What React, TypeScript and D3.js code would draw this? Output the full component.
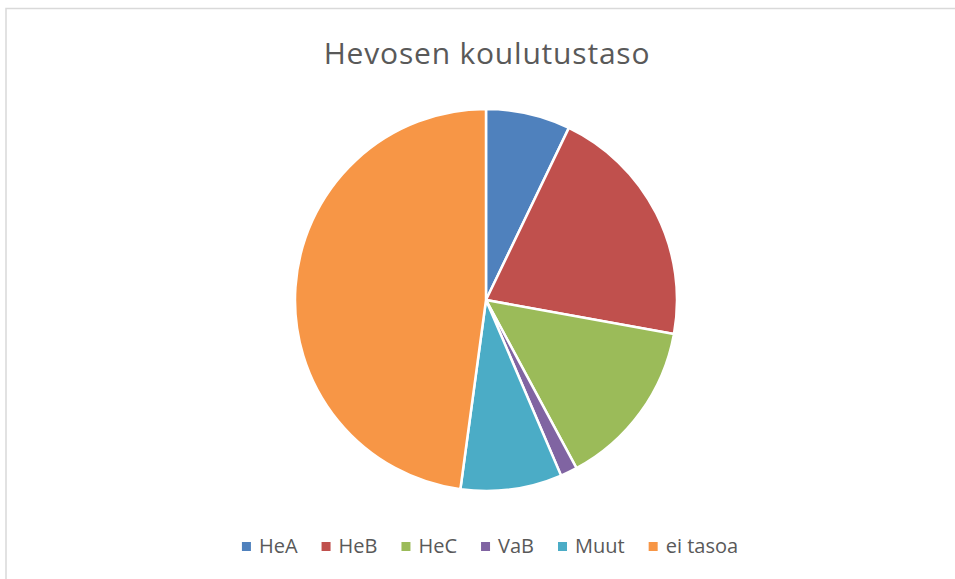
import * as d3 from "d3";
import { useEffect, useRef } from "react";

const categories = ["HeA", "HeB", "HeC", "VaB", "Muut", "ei tasoa"];
const values = [10, 29, 20, 2, 12, 67];
const colors = ["#4F81BD", "#C0504D", "#9BBB59", "#8064A2", "#4BACC6", "#F79646"];
const title = "Hevosen koulutustaso";

const W = 955;
const H = 579;

export default function App() {
  const ref = useRef<SVGSVGElement>(null);

  useEffect(() => {
    const svg = d3.select(ref.current);
    svg.selectAll("*").remove();

    svg.append("rect")
      .attr("width", W).attr("height", H)
      .attr("fill", "#fff");
    // chart border (only top and left edges fall inside the view)
    svg.append("path")
      .attr("d", `M6,${H} V8.5 H${W}`)
      .attr("fill", "none")
      .attr("stroke", "#d9d9d9")
      .attr("stroke-width", 1.5);

    svg.append("text")
      .attr("x", 487).attr("y", 64)
      .attr("text-anchor", "middle")
      .style("font-family", "'Open Sans', sans-serif")
      .style("font-size", "30px")
      .style("letter-spacing", "0.8px")
      .style("fill", "#595959")
      .text(title);

    const data = categories.map((c, i) => ({ label: c, value: values[i] }));
    const pie = d3.pie<{ label: string; value: number }>().sort(null).value((d) => d.value);
    const arc = d3.arc<d3.PieArcDatum<{ label: string; value: number }>>()
      .innerRadius(0).outerRadius(191);
    const color = d3.scaleOrdinal<string, string>().domain(categories).range(colors);

    svg.append("g")
      .attr("transform", "translate(486,300)")
      .selectAll("path")
      .data(pie(data))
      .join("path")
      .attr("d", arc)
      .attr("fill", (d) => color(d.data.label))
      .attr("stroke", "#fff")
      .attr("stroke-width", 2.5);

    const legend = svg.append("g");
    const items = legend.selectAll("g")
      .data(categories)
      .join("g");
    items.append("rect")
      .attr("width", 9).attr("height", 9)
      .attr("y", -11)
      .attr("fill", (d) => color(d));
    items.append("text")
      .attr("x", 17)
      .style("font-family", "'Open Sans', sans-serif")
      .style("font-size", "20px")
      .style("fill", "#595959")
      .text((d) => d);

    let x = 0;
    const gap = 24;
    items.each(function () {
      const g = d3.select(this as SVGGElement);
      const t = g.select("text").node() as SVGTextElement;
      g.attr("transform", `translate(${x},0)`);
      x += 17 + t.getComputedTextLength() + gap;
    });
    const total = x - gap;
    legend.attr("transform", `translate(${490 - total / 2},553)`);
  }, []);

  return (
    <svg
      ref={ref}
      width={W}
      height={H}
      style={{ display: "block", position: "absolute", left: 0, top: 0 }}
    />
  );
}
